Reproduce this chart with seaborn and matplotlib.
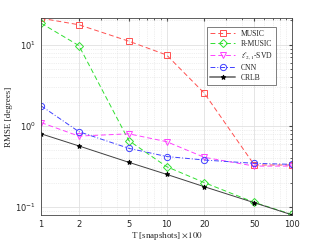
"""
RMSE vs number of snapshots for several DoA estimators, log-log plot.
"""

import matplotlib

matplotlib.use("Agg")
import matplotlib.pyplot as plt
import matplotlib.ticker as mticker
import pandas as pd
import seaborn as sns

SNAPSHOTS = [1, 2, 5, 10, 20, 50, 100]
MUSIC = [21.3, 17.7, 11.1, 7.5, 2.53, 0.33, 0.33]
R_MUSIC = [18.5, 9.8, 0.66, 0.315, 0.20, 0.114, 0.081]
L21_SVD = [1.10, 0.75, 0.80, 0.64, 0.41, 0.32, 0.32]
CNN = [1.77, 0.85, 0.53, 0.42, 0.38, 0.346, 0.336]
CRLB = [0.80, 0.567, 0.356, 0.253, 0.178, 0.113, 0.080]

LABELS = ["MUSIC", "R-MUSIC", r"$\ell_{2,1}$-SVD", "CNN", "CRLB"]

sns.set_style("white")
plt.rcParams["font.family"] = ["DejaVu Sans"]
plt.rcParams["mathtext.fontset"] = "stix"

series = [MUSIC, R_MUSIC, L21_SVD, CNN, CRLB]
styles = [
    dict(color="#ff5050", linestyle=(0, (5, 3)), marker="s", mfc="none", mec="#ff5050"),
    dict(color="#30e030", linestyle=(0, (5, 3)), marker="D", mfc="none", mec="#30e030", ms=3.8),
    dict(color="#ff40ff", linestyle=(0, (5, 3)), marker="v", mfc="none", mec="#ff40ff"),
    dict(color="#4040ff", linestyle=(0, (5, 2, 1, 2)), marker="o", mfc="none", mec="#4040ff"),
    dict(color="#404040", linestyle="-", marker="*", mfc="black", mec="black", ms=3.5),
]

fig = plt.figure(figsize=(3.21, 2.42), dpi=100)
ax = fig.add_axes([0.128, 0.112, 0.782, 0.814])

for label, values, st in zip(LABELS, series, styles):
    df = pd.DataFrame({"T": SNAPSHOTS, "RMSE": values})
    st = dict(st)
    ms = st.pop("ms", 4.5)
    sns.lineplot(
        data=df, x="T", y="RMSE", ax=ax, label=label,
        linewidth=0.7, markersize=ms, markeredgewidth=0.7, **st,
    )

ax.set_xscale("log")
ax.set_yscale("log")
ax.set_xlim(1, 100)
ax.set_ylim(0.08, 21.5)
ax.set_xticks(SNAPSHOTS)
ax.xaxis.set_major_formatter(mticker.FixedFormatter([str(s) for s in SNAPSHOTS]))
ax.xaxis.set_minor_formatter(mticker.NullFormatter())
ax.yaxis.set_major_locator(mticker.LogLocator(base=10))
ax.yaxis.set_minor_locator(mticker.LogLocator(base=10, subs=range(2, 10)))

ax.grid(True, which="major", color="#e0e0e0", linewidth=0.6)
ax.grid(True, which="minor", color="#e0e0e0", linewidth=0.5, linestyle=":")
ax.tick_params(which="both", direction="in", labelsize=6, length=2.5, color="#444444")
ax.tick_params(which="minor", length=1.5)
ax.tick_params(top=True, right=True, which="both")
for sp in ax.spines.values():
    sp.set_color("#444444")
    sp.set_linewidth(0.6)

ax.set_xlabel(r"T [snapshots] $\times 100$", fontsize=6.5, family="Liberation Serif", labelpad=1)
ax.set_ylabel("RMSE [degrees]", fontsize=6.5, family="Liberation Serif", labelpad=2)

leg = ax.legend(
    loc="upper right", bbox_to_anchor=(0.95, 0.975), frameon=True,
    fancybox=False, edgecolor="#444444", handlelength=3.2, borderpad=0.4,
    labelspacing=0.3, prop={"family": "Liberation Serif", "size": 5.5},
)
leg.get_frame().set_linewidth(0.6)
leg.legend_handles[-1].set_linewidth(1.4)
leg.legend_handles[-1].set_color("#808080")

fig.savefig("out.png", dpi=100)
